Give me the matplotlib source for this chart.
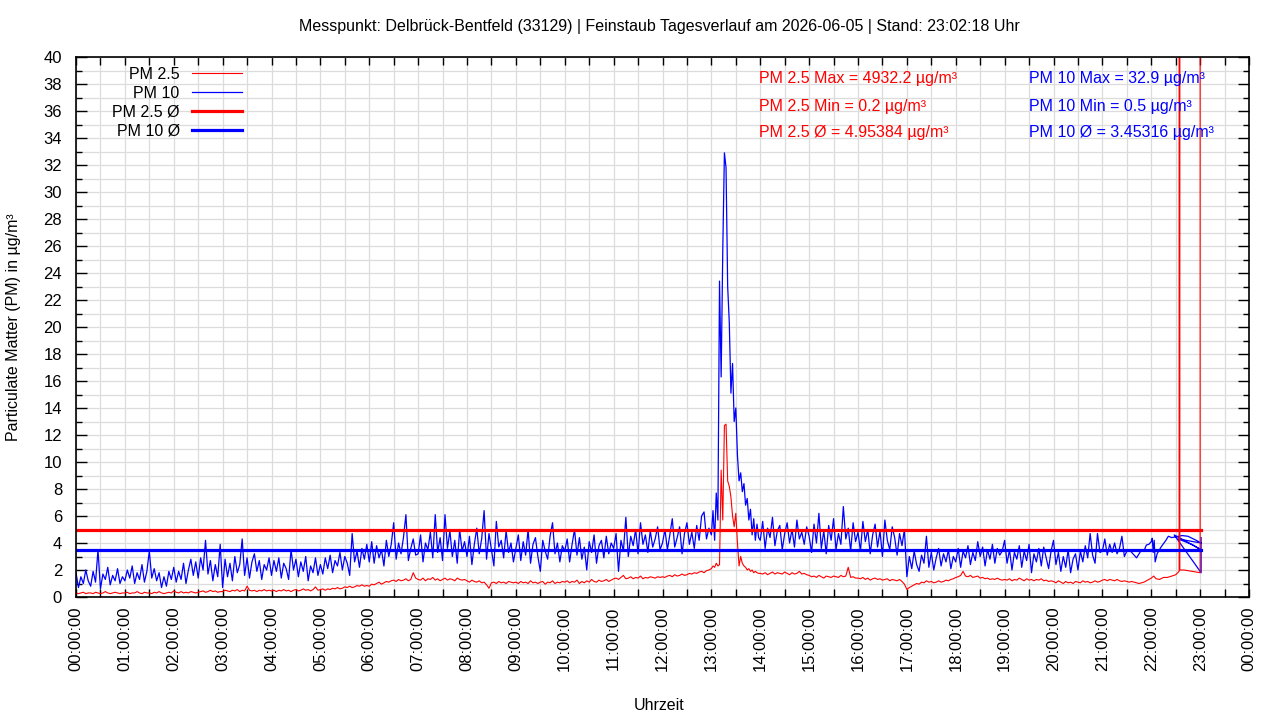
import numpy as np
import matplotlib
matplotlib.use('Agg')
import matplotlib.pyplot as plt

plt.rcParams['font.family'] = ['Liberation Sans', 'DejaVu Sans']

#################
# Data (µg/m³)  #
#################
# PM 10, one row per hour, 3-minute readings (hour 13: 2-minute readings)
pm10_rows = [
    [1.8, 0.7, 1.5, 1.0, 2.0, 1.2, 0.8, 1.9, 1.1, 3.5, 0.6, 1.7, 1.3, 2.2, 0.9, 1.6, 1.2, 2.1, 1.0, 1.5],
    [1.2, 2.0, 1.4, 2.3, 1.0, 1.8, 1.3, 2.4, 1.1, 1.9, 3.4, 1.4, 2.1, 1.2, 1.8, 0.7, 1.5, 0.8, 1.9, 1.3],
    [2.2, 1.1, 1.9, 1.3, 2.5, 1.0, 2.0, 2.8, 1.6, 2.6, 1.4, 2.9, 2.0, 4.2, 1.7, 2.7, 1.2, 2.4, 1.5, 3.9],
    [0.7, 2.8, 1.5, 2.5, 1.2, 3.0, 1.8, 2.4, 4.3, 1.6, 2.9, 1.4, 2.6, 3.2, 1.9, 2.7, 1.3, 2.4, 2.0, 2.9],
    [1.6, 2.7, 1.9, 2.9, 1.4, 2.5, 2.1, 1.3, 3.5, 2.0, 2.8, 1.5, 2.6, 1.9, 3.0, 1.2, 2.3, 1.8, 2.9, 1.6],
    [2.4, 1.7, 2.9, 2.1, 3.1, 1.8, 2.7, 2.3, 3.3, 2.0, 3.0, 2.5, 1.6, 4.7, 2.6, 3.4, 2.2, 3.6, 2.8, 3.9],
    [2.6, 4.1, 2.5, 3.8, 2.9, 3.5, 2.3, 4.2, 3.0, 3.9, 5.5, 2.8, 4.0, 3.2, 4.4, 6.1, 2.7, 3.6, 4.3, 3.1],
    [3.2, 4.6, 2.6, 4.0, 3.5, 4.8, 2.9, 6.1, 3.3, 4.4, 2.7, 6.1, 3.6, 4.9, 3.0, 4.2, 2.5, 5.0, 3.4, 4.1],
    [3.0, 4.5, 2.4, 3.9, 5.1, 3.2, 4.3, 6.4, 2.8, 4.7, 3.5, 2.3, 5.6, 3.7, 4.2, 2.9, 4.9, 3.3, 4.0, 2.6],
    [3.6, 4.6, 2.7, 4.1, 3.1, 5.0, 2.5, 3.9, 4.4, 3.0, 1.9, 4.2, 3.4, 2.8, 4.5, 5.5, 3.2, 4.0, 2.6, 3.8],
    [3.4, 4.3, 2.6, 3.9, 5.0, 3.1, 4.4, 2.8, 3.7, 2.0, 4.1, 3.3, 4.6, 2.5, 3.8, 4.2, 2.9, 4.5, 3.2, 4.0],
    [3.6, 4.7, 1.9, 4.2, 3.4, 5.9, 3.0, 4.5, 3.8, 5.0, 3.2, 5.5, 3.9, 4.6, 3.3, 4.9, 3.7, 4.3, 5.2, 3.5],
    [4.0, 5.0, 3.5, 4.6, 5.8, 3.7, 4.4, 5.2, 3.2, 4.7, 5.5, 3.9, 4.8, 3.6, 5.3, 4.2, 6.0, 6.3, 4.3, 5.1],
    [4.6, 6.4, 4.2, 7.7, 5.7, 23.4, 16.3, 25.7, 32.9, 31.8, 23.0, 20.3, 15.1, 17.3, 13.0, 14.0, 10.5, 8.6,
     9.2, 7.8, 8.4, 6.8, 7.3, 5.7, 6.5, 4.6, 5.8, 4.2, 5.4, 4.4],
    [4.2, 5.6, 3.6, 5.1, 4.4, 5.9, 3.8, 4.9, 5.3, 3.5, 4.7, 5.5, 4.0, 5.0, 3.7, 5.7, 4.3, 4.8, 3.9, 5.2],
    [4.5, 3.3, 5.4, 4.0, 6.2, 3.6, 4.9, 3.2, 5.3, 4.2, 5.8, 3.5, 4.7, 3.9, 6.7, 4.3, 5.1, 3.4, 5.5, 4.1],
    [4.8, 3.4, 5.6, 4.1, 5.0, 3.2, 4.6, 5.4, 3.7, 4.9, 3.0, 5.7, 4.2, 3.5, 5.2, 4.4, 3.1, 4.7, 3.8, 5.0],
    [1.5, 3.0, 2.1, 3.4, 2.4, 1.9, 3.1, 2.5, 4.5, 2.2, 3.3, 2.0, 2.9, 3.6, 2.3, 3.2, 2.6, 3.5, 2.1, 3.0],
    [2.6, 3.6, 2.2, 3.4, 2.9, 3.8, 2.4, 3.3, 2.7, 4.1, 3.0, 3.7, 2.3, 3.5, 2.8, 3.9, 2.5, 3.6, 3.1, 3.4],
    [4.2, 2.5, 3.5, 2.0, 3.3, 2.8, 3.8, 2.2, 3.4, 2.7, 3.9, 1.8, 3.2, 2.6, 3.6, 2.3, 3.7, 2.9, 2.1, 3.4],
    [4.2, 2.4, 3.3, 1.9, 3.0, 2.2, 3.5, 1.8, 2.8, 3.2, 2.0, 3.4, 2.6, 3.8, 2.9, 4.7, 3.1, 2.5, 4.7, 3.3],
    [3.4, 4.3, 3.1, 3.9, 3.3, 4.0, 3.2, 3.6, 4.5, 3.0, 3.4, 3.5, 3.3, 3.1, 2.9, 3.2, 3.5, 3.4, 3.85, 3.9],
]
# PM 2.5, same grid
pm25_rows = [
    [0.3, 0.25, 0.3, 0.35, 0.25, 0.3, 0.3, 0.25, 0.35, 0.3, 0.25, 0.3, 0.4, 0.3, 0.25, 0.3, 0.35, 0.3, 0.25, 0.3],
    [0.3, 0.35, 0.25, 0.3, 0.3, 0.4, 0.3, 0.25, 0.35, 0.3, 0.3, 0.25, 0.35, 0.3, 0.4, 0.3, 0.25, 0.3, 0.35, 0.3],
    [0.45, 0.35, 0.3, 0.4, 0.3, 0.35, 0.3, 0.4, 0.35, 0.3, 0.35, 0.4, 0.45, 0.35, 0.4, 0.5, 0.4, 0.45, 0.35, 0.4],
    [0.4, 0.5, 0.45, 0.4, 0.5, 0.45, 0.55, 0.4, 0.5, 0.45, 0.8, 0.5, 0.45, 0.5, 0.4, 0.5, 0.45, 0.55, 0.45, 0.5],
    [0.45, 0.5, 0.4, 0.5, 0.45, 0.55, 0.45, 0.5, 0.4, 0.5, 0.55, 0.45, 0.5, 0.6, 0.5, 0.55, 0.45, 0.55, 0.75, 0.5],
    [0.55, 0.6, 0.5, 0.6, 0.55, 0.65, 0.6, 0.7, 0.6, 0.65, 0.75, 0.7, 0.8, 0.7, 0.75, 0.85, 0.8, 0.9, 0.8, 0.85],
    [0.8, 0.95, 0.9, 1.0, 1.1, 0.95, 1.05, 1.15, 1.1, 1.2, 1.25, 1.15, 1.3, 1.2, 1.25, 1.35, 1.2, 1.3, 1.8, 1.4],
    [1.3, 1.25, 1.4, 1.2, 1.35, 1.3, 1.45, 1.25, 1.35, 1.2, 1.3, 1.4, 1.25, 1.35, 1.3, 1.2, 1.4, 1.3, 1.25, 1.3],
    [1.2, 1.1, 1.25, 1.15, 1.1, 1.2, 1.05, 1.1, 0.9, 0.65, 1.05, 1.1, 1.0, 1.15, 1.05, 1.1, 1.0, 1.15, 1.1, 1.05],
    [1.1, 1.0, 1.15, 1.05, 1.1, 1.0, 1.2, 1.05, 1.1, 1.0, 1.1, 1.15, 0.95, 1.1, 1.05, 1.2, 1.0, 1.1, 1.05, 1.15],
    [1.1, 1.2, 1.05, 1.15, 1.1, 1.25, 1.0, 1.15, 1.05, 1.2, 1.1, 1.3, 1.15, 1.1, 1.25, 1.15, 1.2, 1.3, 1.15, 1.25],
    [1.35, 1.4, 1.3, 1.45, 1.6, 1.35, 1.4, 1.5, 1.35, 1.45, 1.4, 1.55, 1.35, 1.45, 1.4, 1.5, 1.45, 1.4, 1.5, 1.45],
    [1.5, 1.45, 1.55, 1.6, 1.5, 1.65, 1.55, 1.6, 1.7, 1.6, 1.65, 1.75, 1.7, 1.8, 1.75, 1.85, 1.9, 1.8, 1.95, 2.0],
    [2.1, 2.3, 2.2, 2.5, 2.3, 2.4, 9.4, 5.7, 12.7, 12.8, 8.6, 8.2, 7.4, 6.0, 5.2, 6.2, 4.0, 2.3,
     3.0, 2.5, 2.3, 2.2, 2.0, 2.1, 1.9, 2.0, 1.8, 1.9, 1.8, 1.75],
    [1.75, 1.7, 1.8, 1.65, 1.75, 1.85, 1.7, 1.8, 1.75, 1.7, 1.85, 1.75, 1.65, 1.8, 1.7, 1.75, 1.9, 1.7, 1.75, 1.65],
    [1.6, 1.5, 1.55, 1.45, 1.6, 1.5, 1.4, 1.55, 1.5, 1.45, 1.55, 1.5, 1.45, 1.6, 1.5, 1.55, 2.2, 1.45, 1.5, 1.4],
    [1.4, 1.35, 1.45, 1.3, 1.4, 1.25, 1.35, 1.4, 1.3, 1.35, 1.25, 1.3, 1.35, 1.2, 1.3, 1.25, 1.2, 1.3, 1.15, 0.95],
    [0.56, 0.7, 0.8, 0.9, 1.0, 0.95, 1.1, 1.05, 1.2, 1.1, 1.15, 1.05, 1.1, 1.2, 1.1, 1.15, 1.25, 1.2, 1.3, 1.35],
    [1.45, 1.5, 1.6, 1.9, 1.55, 1.5, 1.6, 1.45, 1.5, 1.55, 1.4, 1.45, 1.35, 1.4, 1.3, 1.35, 1.3, 1.4, 1.3, 1.25],
    [1.3, 1.25, 1.35, 1.2, 1.3, 1.25, 1.4, 1.3, 1.2, 1.35, 1.25, 1.3, 1.2, 1.3, 1.25, 1.35, 1.2, 1.25, 1.15, 1.2],
    [1.15, 1.05, 1.2, 1.1, 1.0, 1.15, 1.05, 1.1, 1.0, 1.15, 1.1, 1.05, 1.2, 1.1, 1.15, 1.05, 1.1, 1.2, 1.1, 1.15],
    [1.25, 1.3, 1.2, 1.3, 1.25, 1.2, 1.3, 1.2, 1.15, 1.2, 1.15, 1.1, 1.15, 1.1, 1.05, 1.0, 1.05, 1.1, 1.2, 1.3],
]
# last hour: sparse readings, not in time order (hours)
pm10_tail_t = [22.0, 22.02, 22.04, 22.06, 22.08, 22.12, 22.2, 22.3, 22.35, 22.42, 22.63, 22.75, 22.92,
               23.02, 22.55, 22.83, 23.02, 22.47, 23.02, 23.02]
pm10_tail_v = [4.1, 4.35, 3.3, 4.2, 2.6, 3.2, 3.7, 4.2, 4.5, 4.4, 4.55, 4.5, 4.2,
               4.0, 4.3, 3.9, 3.5, 4.6, 1.8, 4.4]
pm25_tail_t = [22.0, 22.05, 22.1, 22.17, 22.25, 22.33, 22.42, 22.5, 22.57, 22.585, 22.585, 22.67, 23.0, 23.02]
pm25_tail_v = [1.4, 1.55, 1.35, 1.3, 1.45, 1.45, 1.55, 1.65, 1.9, 4932.2, 2.0, 2.0, 1.8, 2600.0]

pm25_avg = 4.95384
pm10_avg = 3.45316

title = 'Messpunkt: Delbrück-Bentfeld (33129) | Feinstaub Tagesverlauf am 2026-06-05 | Stand: 23:02:18 Uhr'
stats_pm25 = ['PM 2.5 Max = 4932.2 µg/m³', 'PM 2.5 Min = 0.2 µg/m³', 'PM 2.5 Ø = 4.95384 µg/m³']
stats_pm10 = ['PM 10 Max = 32.9 µg/m³', 'PM 10 Min = 0.5 µg/m³', 'PM 10 Ø = 3.45316 µg/m³']
xtick_labels = ['%02d:00:00' % (h % 24) for h in range(25)]


def rows_to_series(rows, tail_t, tail_v):
    t, v = [], []
    for h, row in enumerate(rows):
        n = len(row)
        t += list(h + np.arange(n) / n)
        v += list(row)
    return np.array(t + tail_t), np.array(v + tail_v)


t10, v10 = rows_to_series(pm10_rows, pm10_tail_t, pm10_tail_v)
t25, v25 = rows_to_series(pm25_rows, pm25_tail_t, pm25_tail_v)
t_first = min(t10.min(), t25.min())
t_last = max(t10.max(), t25.max())

#########
# Chart #
#########
fs = 11.5
fig = plt.figure(figsize=(12.8, 7.2), dpi=100)
ax = fig.add_axes([76 / 1280, 1 - 597 / 720, (1249 - 76) / 1280, (597 - 57) / 720])

l10, = ax.plot(t10, v10, color='#0000ff', lw=0.9, label='PM 10')
l25, = ax.plot(t25, v25, color='#ff0000', lw=0.8, label='PM 2.5')
a25, = ax.plot([t_first, t_last], [pm25_avg, pm25_avg], color='#ff0000', lw=2.3, label='PM 2.5 Ø')
a10, = ax.plot([t_first, t_last], [pm10_avg, pm10_avg], color='#0000ff', lw=2.3, label='PM 10 Ø')

ax.set_xlim(0, 24)
ax.set_ylim(0, 40)
ax.set_xticks(range(25))
ax.set_xticklabels(xtick_labels, rotation=90, fontsize=fs + 0.5)
ax.set_xticks(np.arange(0.5, 24, 1), minor=True)
ax.set_yticks(range(0, 41, 2))
ax.set_yticks(range(1, 40, 2), minor=True)
ax.tick_params(axis='y', labelsize=fs + 0.5)
ax.tick_params(which='both', direction='in', top=True, right=True, width=1, colors='black')
ax.tick_params(axis='x', which='both', length=6, pad=7)
ax.tick_params(axis='y', which='major', length=8, pad=10)
ax.tick_params(axis='y', which='minor', length=4)
ax.grid(which='both', color='#dcdcdc', lw=0.9)
ax.set_axisbelow(True)
for s in ax.spines.values():
    s.set_linewidth(1.2)

leg = ax.legend(handles=[l25, l10, a25, a10], loc='upper right',
                bbox_to_anchor=((242 - 76) / 1173, (597 - 67) / 540), frameon=False,
                markerfirst=False, fontsize=fs, handlelength=3.1, handletextpad=0.8,
                labelspacing=0.24, borderpad=0, borderaxespad=0)

for i, s in enumerate(stats_pm25):
    ax.text((759 - 76) / 1173, (597 - 79 - 27 * i) / 540, s, color='#ff0000',
            fontsize=fs, va='center', ha='left', transform=ax.transAxes)
for i, s in enumerate(stats_pm10):
    ax.text((1029 - 76) / 1173, (597 - 79 - 27 * i) / 540, s, color='#0000ff',
            fontsize=fs, va='center', ha='left', transform=ax.transAxes)

fig.text(659 / 1280, 1 - 27 / 720, title, ha='center', va='center', fontsize=fs)
fig.text(14 / 1280, 1 - 327 / 720, 'Particulate Matter (PM) in µg/m³', rotation=90,
         ha='center', va='center', fontsize=fs)
fig.text(659 / 1280, 1 - 705 / 720, 'Uhrzeit', ha='center', va='center', fontsize=fs)

plt.savefig('out.png', dpi=100)
